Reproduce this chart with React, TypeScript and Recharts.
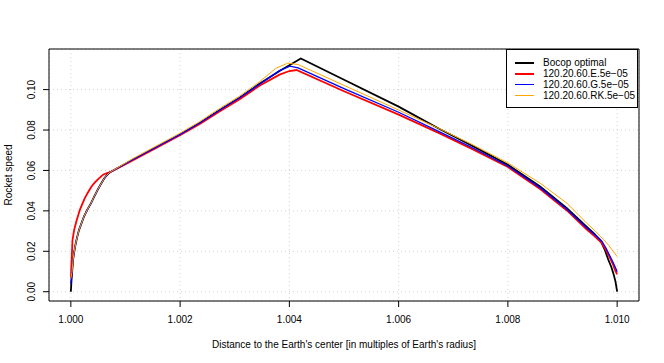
import { LineChart, Line, XAxis, YAxis, CartesianGrid, ReferenceArea, Legend } from 'recharts'

// values
const xTicks = [1.0, 1.002, 1.004, 1.006, 1.008, 1.01]
const yTicks = [0, 0.02, 0.04, 0.06, 0.08, 0.1]

const bocopX = [1.0, 1.00001, 1.00002, 1.00004, 1.00006, 1.00009, 1.00012, 1.00015, 1.00024, 1.0003, 1.00037, 1.00043, 1.00049, 1.00055, 1.00061, 1.00066, 1.00071, 1.00113, 1.0015, 1.00199, 1.00236, 1.00272, 1.00309, 1.00346, 1.00382, 1.00421, 1.005, 1.006, 1.00675, 1.00737, 1.008, 1.00859, 1.00908, 1.00944, 1.00957, 1.00969, 1.00977, 1.00984, 1.00989, 1.00993, 1.00997, 1.01]
const bocopY = [0, 0.005, 0.0085, 0.0157, 0.0195, 0.024, 0.0275, 0.0306, 0.0372, 0.0405, 0.0438, 0.0472, 0.0504, 0.0533, 0.056, 0.0577, 0.059, 0.0653, 0.0706, 0.0777, 0.0835, 0.0898, 0.096, 0.103, 0.1092, 0.1154, 0.1049, 0.0916, 0.0805, 0.0719, 0.0628, 0.0521, 0.0413, 0.0322, 0.029, 0.0256, 0.021, 0.0157, 0.0125, 0.0091, 0.005, 0]

const eulerX = [1.0, 1.00003, 1.00006, 1.0001, 1.000165, 1.00021, 1.000256, 1.00031, 1.000378, 1.00044, 1.0005, 1.00059, 1.00065, 1.00071, 1.00113, 1.0015, 1.00199, 1.00236, 1.00272, 1.00309, 1.00346, 1.00382, 1.004, 1.00413, 1.005, 1.006, 1.00676, 1.00737, 1.008, 1.00859, 1.00908, 1.00944, 1.00958, 1.00972, 1.0098, 1.00987, 1.00992, 1.00996, 1.01]
const eulerY = [0.0066, 0.0256, 0.0305, 0.0347, 0.0405, 0.0435, 0.0463, 0.049, 0.0521, 0.0541, 0.0557, 0.0579, 0.0586, 0.059, 0.065, 0.0703, 0.0773, 0.083, 0.0892, 0.0953, 0.102, 0.1074, 0.1092, 0.1097, 0.0992, 0.0876, 0.0782, 0.0703, 0.0617, 0.0508, 0.0402, 0.0309, 0.0276, 0.024, 0.0204, 0.0166, 0.0138, 0.0108, 0.0086]

const gaussX = [1.0, 1.00002, 1.00004, 1.00006, 1.00009, 1.00012, 1.00015, 1.00024, 1.0003, 1.00037, 1.00043, 1.00049, 1.00055, 1.00061, 1.00066, 1.00071, 1.00113, 1.0015, 1.00199, 1.00236, 1.00272, 1.00309, 1.00346, 1.00382, 1.00401, 1.00416, 1.005, 1.006, 1.00676, 1.00737, 1.008, 1.00859, 1.00908, 1.00944, 1.00958, 1.00972, 1.0098, 1.00987, 1.00992, 1.00996, 1.01]
const gaussY = [0.004, 0.009, 0.0157, 0.0195, 0.024, 0.0275, 0.0306, 0.0372, 0.0405, 0.0438, 0.0472, 0.0504, 0.0533, 0.056, 0.0577, 0.059, 0.0653, 0.0706, 0.0777, 0.0835, 0.0898, 0.096, 0.1028, 0.1094, 0.1116, 0.1108, 0.1005, 0.0888, 0.079, 0.071, 0.0622, 0.0515, 0.0408, 0.0316, 0.0284, 0.025, 0.0214, 0.0175, 0.0148, 0.0125, 0.0099]

const rkX = [1.0, 1.00002, 1.00004, 1.00006, 1.00009, 1.00012, 1.00015, 1.00024, 1.0003, 1.00037, 1.00043, 1.00049, 1.00055, 1.00061, 1.00066, 1.00071, 1.00113, 1.0015, 1.00199, 1.00236, 1.00272, 1.00309, 1.00346, 1.00375, 1.00397, 1.00416, 1.005, 1.006, 1.00676, 1.00737, 1.008, 1.00859, 1.00908, 1.00944, 1.0096, 1.00975, 1.00985, 1.00993, 1.01]
const rkY = [0.0066, 0.0095, 0.0157, 0.0195, 0.024, 0.0275, 0.0306, 0.0372, 0.0405, 0.0438, 0.0472, 0.0504, 0.0533, 0.056, 0.0577, 0.059, 0.0658, 0.0712, 0.0783, 0.0842, 0.0906, 0.0968, 0.104, 0.1105, 0.1131, 0.1124, 0.1021, 0.0899, 0.0805, 0.0725, 0.0637, 0.0537, 0.0438, 0.034, 0.03, 0.0258, 0.0228, 0.0198, 0.0174]

const toPoints = (xs: number[], ys: number[]) => xs.map((x, i) => ({ x, y: ys[i] }))

const series = [
  { name: 'Bocop optimal', color: '#000000', width: 1.8, data: toPoints(bocopX, bocopY) },
  { name: '120.20.60.E.5e\u221205', color: '#ff0000', width: 1.8, data: toPoints(eulerX, eulerY) },
  { name: '120.20.60.G.5e\u221205', color: '#0000ff', width: 1.3, data: toPoints(gaussX, gaussY) },
  { name: '120.20.60.RK.5e\u221205', color: '#ffa500', width: 1, data: toPoints(rkX, rkY) },
]

const xDomain = [0.9996, 1.0104]
const yDomain = [-0.0046, 0.1201]
const font = '"Liberation Sans", Arial, Helvetica, sans-serif'

function YTick({ y, payload }: any) {
  return (
    <text x={32} y={y} transform={`rotate(-90 32 ${y})`} textAnchor="middle" dominantBaseline="central"
      fontSize={10} fill="#000" fontFamily={font}>
      {Number(payload.value).toFixed(2)}
    </text>
  )
}

function LegendBox() {
  return (
    <div style={{ width: 132, height: 59, border: '1px solid #000', background: '#fff', fontFamily: font, fontSize: 10, paddingTop: 7, boxSizing: 'border-box' }}>
      {series.map((s) => (
        <div key={s.name} style={{ display: 'flex', alignItems: 'center', height: 11 }}>
          <div style={{ marginLeft: 8, width: 19, height: s.width >= 1.8 ? 2 : 1, background: s.color }} />
          <span style={{ marginLeft: 9, lineHeight: '11px', color: '#000' }}>{s.name}</span>
        </div>
      ))}
    </div>
  )
}

export default function App() {
  return (
    <div style={{ position: 'absolute', left: 0, top: 0, width: 664, height: 363, background: '#fff' }}>
      <LineChart width={664} height={363} margin={{ top: 49, right: 25, bottom: 0, left: 0 }}>
        <CartesianGrid stroke="#d3d3d3" strokeDasharray="1 3" />
        <XAxis
          type="number"
          dataKey="x"
          domain={xDomain}
          ticks={xTicks}
          allowDataOverflow
          height={62}
          axisLine={false}
          tickSize={6}
          tickMargin={9}
          stroke="#000"
          tick={{ fontSize: 10, fill: '#000', fontFamily: font }}
          tickFormatter={(v: number) => v.toFixed(3)}
          label={() => (
            <text x={344} y={344} textAnchor="middle" dominantBaseline="central" fontSize={10} fill="#000" fontFamily={font}>
              Distance to the Earth's center [in multiples of Earth's radius]
            </text>
          )}
        />
        <YAxis
          type="number"
          dataKey="y"
          domain={yDomain}
          ticks={yTicks}
          allowDataOverflow
          width={49}
          axisLine={false}
          tickSize={6}
          stroke="#000"
          tick={<YTick />}
          label={() => (
            <text x={8} y={175} transform="rotate(-90 8 175)" textAnchor="middle" dominantBaseline="central" fontSize={10} fill="#000" fontFamily={font}>
              Rocket speed
            </text>
          )}
        />
        <ReferenceArea x1={xDomain[0]} x2={xDomain[1]} y1={yDomain[0]} y2={yDomain[1]} fill="none" fillOpacity={0} stroke="#000" strokeWidth={1} ifOverflow="visible" />
        {series.map((s) => (
          <Line
            key={s.name}
            data={s.data}
            dataKey="y"
            name={s.name}
            type="linear"
            stroke={s.color}
            strokeWidth={s.width}
            dot={false}
            activeDot={false}
            isAnimationActive={false}
          />
        ))}
        <Legend
          layout="horizontal"
          verticalAlign="middle"
          content={<LegendBox />}
          wrapperStyle={{ position: 'absolute', left: 506, top: 49, width: 134, height: 61 }}
        />
      </LineChart>
    </div>
  )
}
